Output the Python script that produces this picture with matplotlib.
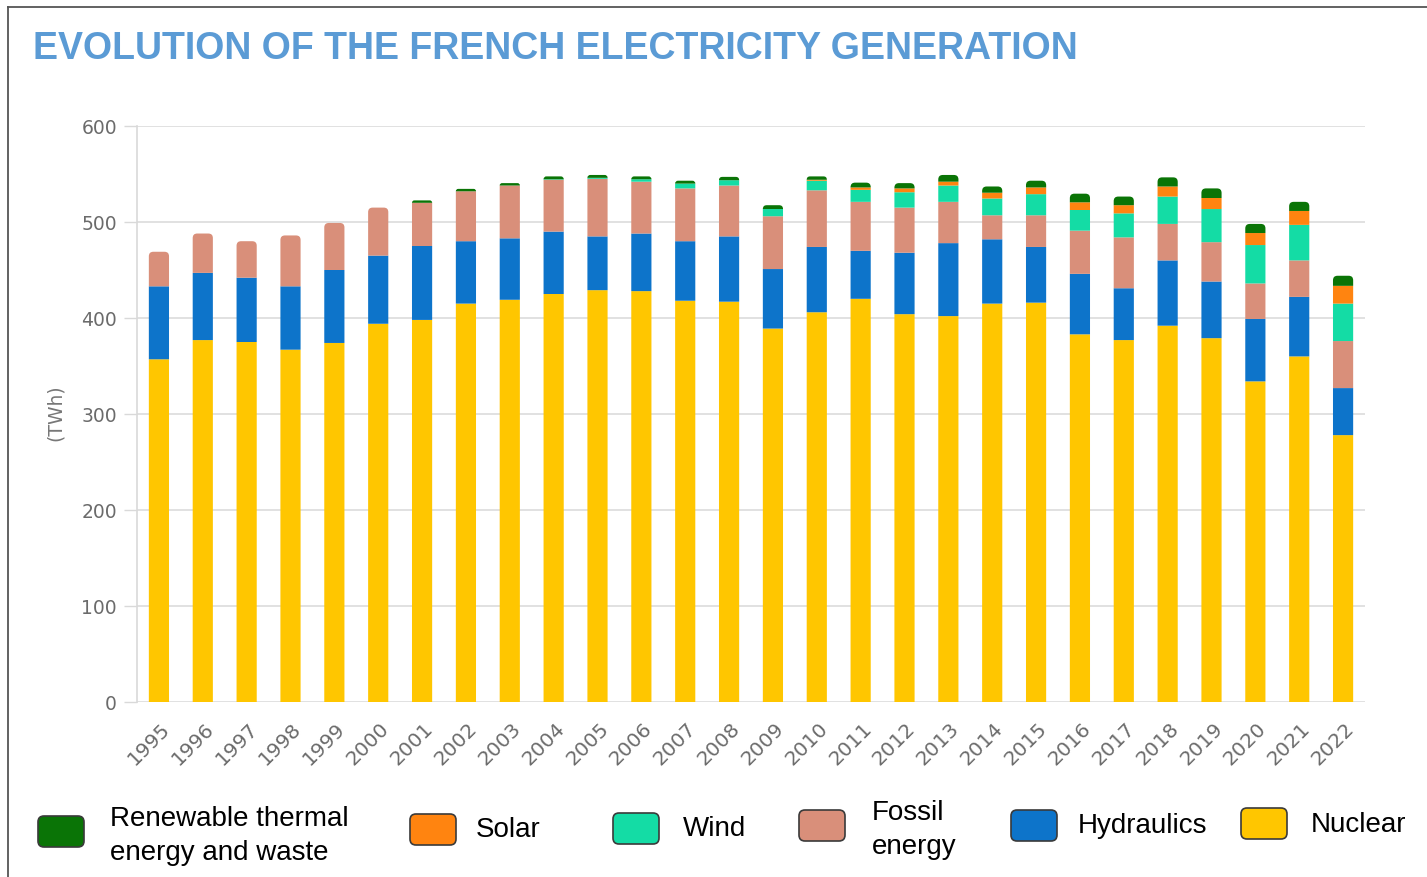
import matplotlib
matplotlib.use('Agg')
import matplotlib.pyplot as plt
from matplotlib.patches import FancyBboxPatch, PathPatch
from matplotlib.path import Path
from matplotlib.lines import Line2D
import matplotlib.transforms as mtransforms
import numpy as np

# ---------------- data (TWh) ----------------
years = list(range(1995, 2023))
nuclear = [357, 377, 375, 367, 374, 394, 398, 415, 419, 425, 429, 428, 418, 417,
           389, 406, 420, 404, 402, 415, 416, 383, 377, 392, 379, 334, 360, 278]
hydraulics = [76, 70, 67, 66, 76, 71, 77, 65, 64, 65, 56, 60, 62, 68,
              62, 68, 50, 64, 76, 67, 58, 63, 54, 68, 59, 65, 62, 49]
fossil = [36, 41, 38, 53, 49, 50, 45, 52, 55, 54, 60, 54, 55, 53,
          55, 59, 51, 47, 43, 25, 33, 45, 53, 38, 41, 37, 38, 49]
wind = [0, 0, 0, 0, 0, 0, 0, 0, 0, 0.5, 1, 2.5, 5, 5.5,
        7.5, 10, 12.5, 16, 17, 17.5, 22, 21.5, 25, 28.5, 34.5, 40, 37, 39]
solar = [0, 0, 0, 0, 0, 0, 0, 0, 0, 0, 0, 0, 0, 0,
         0, 1, 2.5, 4, 4, 6, 7, 8, 8.5, 10.5, 11.5, 12.5, 14.5, 18.5]
renewable_thermal = [0, 0, 0, 0, 0, 0, 2.5, 2.5, 2.5, 3, 3, 3, 3, 3.5,
                     4, 3.5, 5, 5.5, 7, 6.5, 7, 9, 9, 9.5, 10, 9.5, 9.5, 10.5]

series_labels = ["Nuclear", "Hydraulics", "Fossil\nenergy", "Wind", "Solar",
                 "Renewable thermal\nenergy and waste"]
series_values = [nuclear, hydraulics, fossil, wind, solar, renewable_thermal]
series_colors = ["#ffc600", "#0d74ca", "#d98f7a", "#14dca5", "#ff8410", "#0a7406"]

title = "EVOLUTION OF THE FRENCH ELECTRICITY GENERATION"
y_label = "(TWh)"
y_ticks = [0, 100, 200, 300, 400, 500, 600]

# ---------------- figure ----------------
W, H = 1427, 878
fig = plt.figure(figsize=(W / 100, H / 100), dpi=100)
fig.patch.set_facecolor('white')
ax_l, ax_r, ax_t, ax_b = 137, 1365, 127, 703
ax = fig.add_axes([ax_l / W, 1 - ax_b / H, (ax_r - ax_l) / W, (ax_b - ax_t) / H])

x = np.arange(len(years))
bar_w = 0.46
bottom = np.zeros(len(years))
drawn = []
for vals, col in zip(series_values, series_colors):
    v = np.array(vals, dtype=float)
    bc = ax.bar(x, v, width=bar_w, bottom=bottom, color=col, linewidth=0, zorder=2)
    for p in bc.patches:
        p.set_snap(False)
    drawn.append((bc, v, col))
    bottom = bottom + v

ax.set_xlim(-0.5, len(years) - 0.5)
ax.set_ylim(0, 600)
ax.set_yticks(y_ticks)
ax.grid(axis='y', color='#dcdcdc', lw=1.2)
ax.set_axisbelow(True)
for s in ['top', 'right', 'bottom']:
    ax.spines[s].set_visible(False)
ax.spines['left'].set_color('#d9d9d9')
ax.spines['left'].set_linewidth(1.2)
ax.tick_params(axis='y', length=9.4, width=1.0, color='#d9d9d9',
               labelcolor='#6b6b6b', labelsize=13.5, pad=5)
ax.tick_params(axis='x', length=0, labelcolor='#6b6b6b', labelsize=14.5, pad=16.5)
ax.set_xticks(x)
ax.set_xticklabels([str(y) for y in years], rotation=45, ha='right', va='center',
                   rotation_mode='anchor')
offset = mtransforms.ScaledTranslation(8 / 100, 0, fig.dpi_scale_trans)
for lab in ax.get_xticklabels():
    lab.set_transform(lab.get_transform() + offset)

# rounded tops on the top segment of each bar (single path, no overlap)
px_per_x = (ax_r - ax_l) / (len(years))
px_per_y = (ax_b - ax_t) / 600.0
for i in range(len(years)):
    top = None
    for bc, v, col in drawn:
        if v[i] > 0:
            top = (bc.patches[i], col)
    rect, col = top
    x0, y0 = rect.get_x(), rect.get_y()
    w, h = rect.get_width(), rect.get_height()
    x1, y1 = x0 + w, y0 + h
    r_px = min(4.5, h * px_per_y)
    rx, ry = r_px / px_per_x, r_px / px_per_y
    verts = [(x0, y0), (x1, y0), (x1, y1 - ry), (x1, y1), (x1 - rx, y1),
             (x0 + rx, y1), (x0, y1), (x0, y1 - ry), (x0, y0)]
    codes = [Path.MOVETO, Path.LINETO, Path.LINETO, Path.CURVE3, Path.CURVE3,
             Path.LINETO, Path.CURVE3, Path.CURVE3, Path.CLOSEPOLY]
    ax.add_patch(PathPatch(Path(verts, codes), fc=col, lw=0, zorder=2, snap=False))
    rect.set_visible(False)

# ---------------- texts ----------------
fig.text(33 / W, 1 - 49 / H, title, ha='left', va='center', fontsize=27,
         fontweight='bold', family='Liberation Sans', color='#5b9bd5')
fig.text(55 / W, 1 - 413 / H, y_label, rotation=90, ha='center', va='center',
         fontsize=13.5, color='#777777')

# ---------------- legend ----------------
ident = mtransforms.IdentityTransform()
legend_layout = {  # label index: (box_left, box_top, text_left, text_center_y)
    5: (38, 817, 110, 836),
    4: (410, 815, 476, 830),
    3: (613, 814, 683, 829),
    2: (799, 811, 872, 830),
    1: (1011, 811, 1078, 826),
    0: (1241, 809, 1311, 825),
}
for idx, (bx, by, tx, ty) in legend_layout.items():
    p = FancyBboxPatch((bx, H - by - 31), 46, 31, boxstyle="round,pad=0,rounding_size=6",
                       transform=ident, fc=series_colors[idx], ec='#3a3a3a', lw=1.2)
    fig.add_artist(p)
    fig.text(tx / W, 1 - ty / H, series_labels[idx], ha='left', va='center',
             fontsize=20, family='Liberation Sans', color='black', linespacing=1.42)

# ---------------- frame ----------------
fig.add_artist(Line2D([8 / W, 8 / W], [0, 1 - 8 / H], transform=fig.transFigure,
                      color='#555555', lw=1.3))
fig.add_artist(Line2D([8 / W, 1], [1 - 8 / H, 1 - 8 / H], transform=fig.transFigure,
                      color='#555555', lw=1.3))

fig.savefig('out.png', dpi=100)
